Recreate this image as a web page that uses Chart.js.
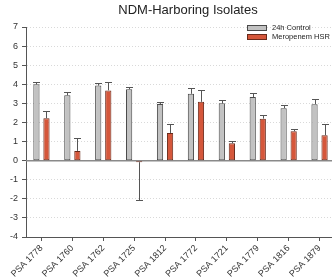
<!DOCTYPE html>
<html>
<head>
<meta charset="utf-8">
<script src="https://cdn.jsdelivr.net/npm/chart.js@4/dist/chart.umd.min.js"></script>
<style>
  html, body { margin: 0; padding: 0; overflow: hidden; background: #fff; }
  #wrap { position: relative; width: 335px; height: 279px; }
</style>
</head>
<body>
<div id="wrap"><canvas id="c"></canvas></div>
<script>
const chartTitle = "NDM-Harboring Isolates";
const categories = ["PSA 1778", "PSA 1760", "PSA 1762", "PSA 1725", "PSA 1812", "PSA 1772", "PSA 1721", "PSA 1779", "PSA 1816", "PSA 1879"];
const seriesNames = ["24h Control", "Meropenem HSR"];
const controlValues = [4.0, 3.42, 3.93, 3.74, 2.97, 3.5, 3.0, 3.33, 2.75, 2.96];
const controlErrors = [0.1, 0.15, 0.16, 0.14, 0.11, 0.33, 0.16, 0.22, 0.19, 0.29];
const hsrValues = [2.22, 0.51, 3.68, -0.08, 1.45, 3.08, 0.91, 2.2, 1.54, 1.33];
const hsrErrors = [0.38, 0.65, 0.42, 1.97, 0.45, 0.6, 0.13, 0.19, 0.12, 0.6];
const yTicks = [-4, -3, -2, -1, 0, 1, 2, 3, 4, 5, 6, 7];

const FONT = "'Liberation Sans', Arial, sans-serif";
const fills = ["#c2c2c2", "#d5573b"];
const borders = ["#4a4a4a", "#6a2a1b"];
const errorSets = [controlErrors, hsrErrors];

const extras = {
  id: "extras",
  beforeDatasetsDraw(chart) {
    const {ctx, chartArea, scales} = chart;
    const y0 = scales.y.getPixelForValue(0);
    ctx.save();
    ctx.strokeStyle = "#8a8a8a";
    ctx.lineWidth = 1.5;
    ctx.beginPath();
    ctx.moveTo(chartArea.left, y0);
    ctx.lineTo(chartArea.right, y0);
    ctx.stroke();
    ctx.restore();
  },
  afterDatasetsDraw(chart) {
    const {ctx, scales} = chart;
    ctx.save();
    ctx.strokeStyle = "#555";
    ctx.lineWidth = 1;
    chart.data.datasets.forEach((ds, di) => {
      const meta = chart.getDatasetMeta(di);
      meta.data.forEach((bar, i) => {
        const v = ds.data[i];
        const e = errorSets[di][i];
        const end = v >= 0 ? v + e : v - e;
        const x = Math.round(bar.x) + 0.5;
        const yA = scales.y.getPixelForValue(v);
        const yB = Math.round(scales.y.getPixelForValue(end)) + 0.5;
        ctx.beginPath();
        ctx.moveTo(x, yA);
        ctx.lineTo(x, yB);
        ctx.moveTo(x - 3.5, yB);
        ctx.lineTo(x + 3.5, yB);
        ctx.stroke();
      });
    });
    ctx.restore();
  },
  afterDraw(chart) {
    const {ctx} = chart;
    ctx.save();
    ctx.fillStyle = "#222";
    ctx.font = "13px " + FONT;
    ctx.textAlign = "center";
    ctx.textBaseline = "middle";
    ctx.fillText(chartTitle, 188, 10);
    ctx.font = "7.5px " + FONT;
    ctx.textAlign = "left";
    chart.data.datasets.forEach((ds, di) => {
      const by = 25 + di * 9;
      ctx.fillStyle = ds.backgroundColor;
      ctx.fillRect(247.5, by + 0.5, 19, 5);
      ctx.strokeStyle = ds.borderColor;
      ctx.lineWidth = 1;
      ctx.strokeRect(247.5, by + 0.5, 19, 5);
      ctx.fillStyle = "#222";
      ctx.fillText(ds.label, 272, by + 3);
    });
    ctx.restore();
  }
};

new Chart(document.getElementById("c"), {
  type: "bar",
  data: {
    labels: categories,
    datasets: [
      { label: seriesNames[0], data: controlValues, backgroundColor: fills[0], borderColor: borders[0], borderWidth: 1, borderSkipped: false },
      { label: seriesNames[1], data: hsrValues, backgroundColor: fills[1], borderColor: borders[1], borderWidth: 1, borderSkipped: false }
    ]
  },
  options: {
    responsive: true,
    maintainAspectRatio: false,
    animation: false,
    datasets: { bar: { categoryPercentage: 0.65, barPercentage: 0.62 } },
    layout: { padding: { top: 27, right: 0, left: 0, bottom: 0 } },
    plugins: { legend: { display: false }, title: { display: false }, tooltip: { enabled: false } },
    scales: {
      x: {
        afterFit(s) { s.height = 42; },
        grid: { display: true, drawOnChartArea: false, offset: false, tickLength: 4, tickColor: "#555", tickWidth: 1 },
        border: { display: true, color: "#555", width: 1 },
        ticks: { minRotation: 45, maxRotation: 45, color: "#333", font: { family: FONT, size: 9 }, padding: 2 }
      },
      y: {
        min: -4, max: 7,
        afterFit(s) { s.width = 26; },
        afterBuildTicks(s) { s.ticks = yTicks.map(v => ({ value: v })); },
        grid: { color: "#d9d9d9", lineWidth: 1, tickLength: 4, tickColor: "#555", tickWidth: 1 },
        border: { display: true, color: "#555", width: 1, dash: [1, 2] },
        ticks: { color: "#333", font: { family: FONT, size: 9 }, padding: 4 }
      }
    }
  },
  plugins: [extras]
});
</script>
</body>
</html>
